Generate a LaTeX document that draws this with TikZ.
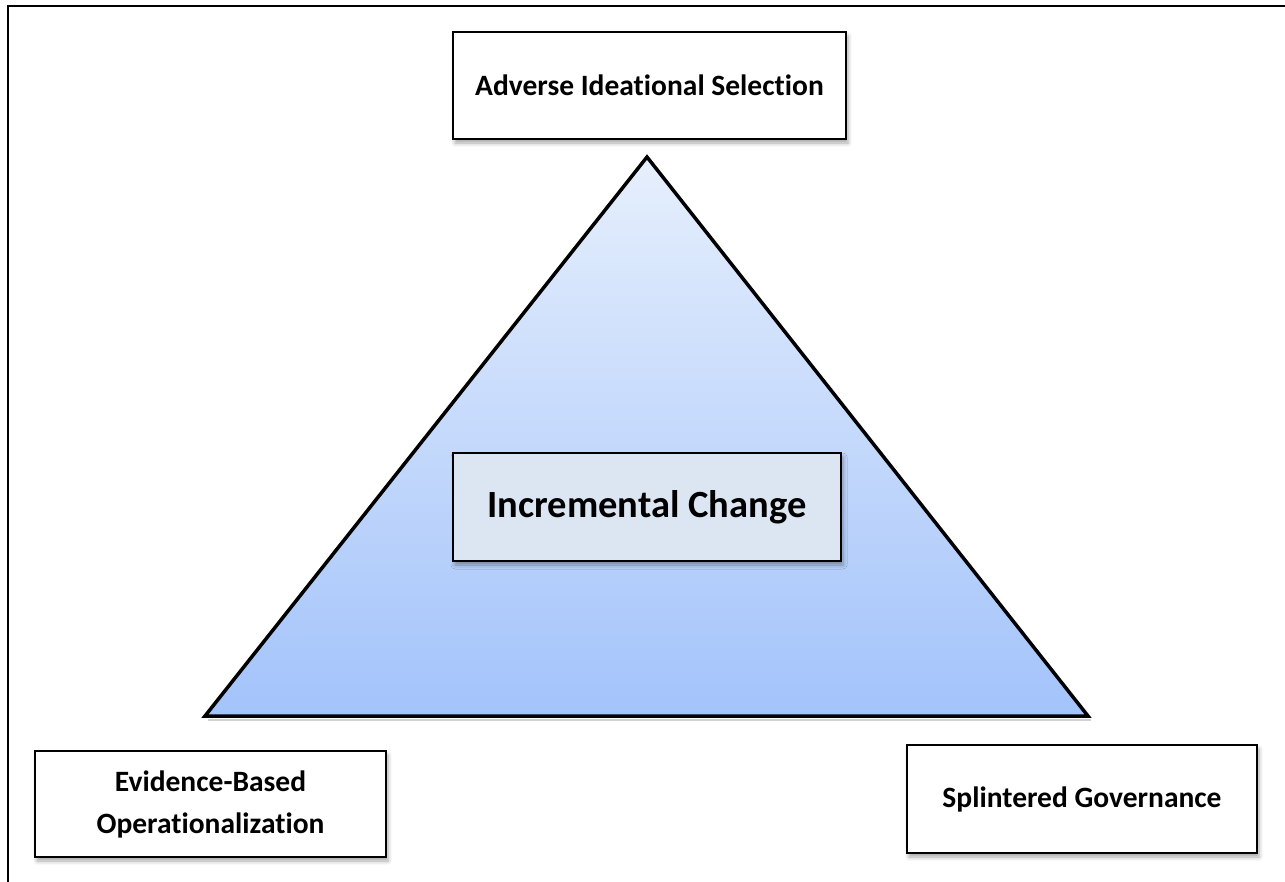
\documentclass[tikz,border=0pt]{standalone}
\usepackage{fontspec}
\setmainfont[Ligatures={NoCommon}]{Carlito}
\usetikzlibrary{shadows.blur}
\definecolor{tritop}{HTML}{E6EFFC}
\definecolor{tribot}{HTML}{A3C3FB}
\definecolor{centerfill}{HTML}{DCE6F2}
\tikzset{
  labelbox/.style={draw=black, line width=2pt, fill=white, inner sep=0pt,
    font=\bfseries\fontsize{29.5}{42}\selectfont, align=center,
    blur shadow={shadow xshift=2pt, shadow yshift=-4pt, shadow blur radius=4pt, shadow opacity=35}},
  centerbox/.style={labelbox, fill=centerfill, font=\bfseries\fontsize{38.5}{44}\selectfont},
  frameline/.style={line width=2.5pt, black},
}
\begin{document}
\begin{tikzpicture}[x=1pt,y=-1pt]
\useasboundingbox (0,0) rectangle (1285,881);
% frame
\coordinate (ftl) at (8,6);
\coordinate (ftr) at (1290,6);
\coordinate (fbl) at (8,890);
\draw[frameline] (fbl) -- (ftl) -- (ftr);
% triangle
\coordinate (apex) at (647,157);
\coordinate (bl) at (205,716);
\coordinate (br) at (1088,716);
\fill[black, opacity=0.18] ([shift={(3pt,-5pt)}]bl) -- ([shift={(3pt,-5pt)}]br) -- ([shift={(3pt,-3pt)}]br) -- ([shift={(3pt,-3pt)}]bl) -- cycle;
\shade[top color=tritop, bottom color=tribot] (apex) -- (br) -- (bl) -- cycle;
\draw[line width=3.5pt, line join=miter] (apex) -- (br) -- (bl) -- cycle;
% boxes
\node[labelbox, minimum width=393pt, minimum height=107pt] (ais) at (649.5,85.5) {Adverse Ideational Selection};
\node[centerbox, minimum width=388pt, minimum height=108pt] (inc) at (647,507) {Incremental Change};
\node[labelbox, minimum width=351pt, minimum height=106pt] (ebo) at (210.5,804) {Evidence-Based\\Operationalization};
\node[labelbox, minimum width=350pt, minimum height=108pt] (spg) at (1082,799) {Splintered Governance};
\end{tikzpicture}
\end{document}
